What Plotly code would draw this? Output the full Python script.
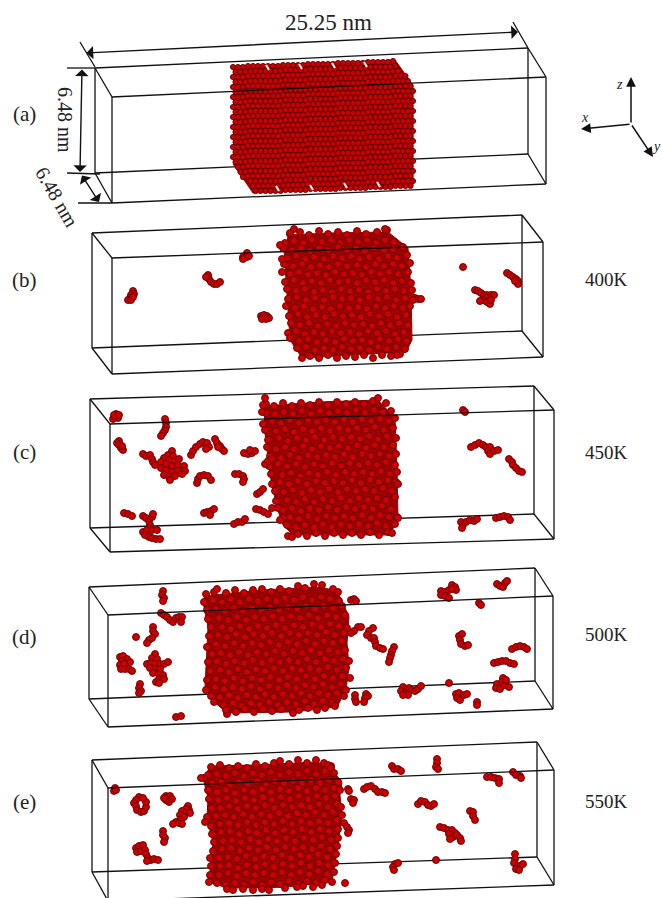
import plotly.graph_objects as go

ATOM = '#cc0000'
EDGE = '#640000'
FILL = '#9c0000'
SERIF = 'Liberation Serif'
INK = '#222222'

# box corners: back TL, back TR, front TL, front TR, back BL, back BR, front BL, front BR
box_a_x = [95, 528, 112, 546, 95, 528, 112, 546]
box_a_y = [68, 48, 97, 77, 173, 154, 203, 184]
box_b_x = [92, 522, 112, 543, 92, 522, 112, 543]
box_b_y = [233, 215, 258, 242, 348, 331, 374, 357]
box_c_x = [90, 534, 110, 554, 90, 534, 110, 554]
box_c_y = [399, 386, 424, 410, 528, 514, 552, 539]
box_d_x = [89, 535, 108, 553, 89, 535, 108, 553]
box_d_y = [587, 568, 615, 596, 699, 681, 727, 709]
box_e_x = [92, 537, 108, 554, 92, 537, 108, 554]
box_e_y = [760, 742, 788, 770, 872, 857, 901, 885]

# panel (a) lattice: row heights with their left and right ends, columns with their tilt
a_row_y = [67, 72, 77, 82, 87, 92, 97, 102, 107, 112, 117, 122, 127, 132, 137, 142, 147, 152, 157, 162,
           167, 172, 177, 182, 187, 192]
a_row_left = [233, 233, 233, 233, 233, 233, 233, 233, 233, 233, 233, 233, 233, 233, 233, 233, 233, 233, 233, 233,
              235, 239, 242, 246, 249, 253]
a_row_right = [395, 399, 402, 406, 410, 413, 413, 413, 413, 413, 413, 413, 413, 413, 413, 413, 413, 413, 413, 413,
               413, 413, 413, 413, 413, 413]
a_cols = [233, 238, 243, 248, 253, 258, 263, 268, 273, 278, 283, 288, 293, 298, 303, 308, 313, 318, 323, 328,
          333, 338, 343, 348, 353, 358, 363, 368, 373, 378, 383, 388, 393, 398, 403, 408, 413]
a_tilt = [0, 0, 0, -1, -1, -1, -1, -1, -1, -1, -2, -2, -2, -2, -2, -3, -3, -3, -3, -3,
          -3, -4, -4, -4, -4, -4, -4, -5, -5, -5, -5, -5, -6, -6, -6, -6, -6]
a_notch_x = [266, 269, None, 299, 302, None, 332, 335, None, 364, 367, None,
             276, 279, None, 310, 313, None, 344, 347, None, 377, 380]
a_notch_y = [65, 70, None, 64, 69, None, 63, 68, None, 62, 67, None,
             186, 191, None, 185, 190, None, 183, 188, None, 182, 187]
a_hull_x = [233, 395, 413, 413, 253, 233]
a_hull_y = [66, 60, 85, 186, 193, 164]

# block silhouettes
hull_b_x = [288, 330, 388, 408, 411, 412, 406, 302, 290, 287, 284]
hull_b_y = [235, 233, 232, 248, 290, 340, 352, 358, 340, 300, 250]
hull_c_x = [264, 320, 378, 395, 397, 398, 390, 293, 283, 277, 270, 267, 264]
hull_c_y = [406, 402, 400, 418, 470, 518, 535, 535, 525, 508, 475, 452, 425]
hull_d_x = [204, 260, 320, 337, 343, 349, 347, 349, 346, 337, 293, 227, 212, 205, 207, 208, 203]
hull_d_y = [596, 590, 587, 591, 603, 617, 643, 667, 690, 707, 712, 713, 700, 687, 647, 627, 602]
hull_e_x = [210, 253, 317, 330, 342, 340, 342, 340, 337, 332, 297, 267, 227, 209, 211, 213, 207, 208, 203]
hull_e_y = [766, 765, 762, 767, 782, 795, 815, 832, 852, 882, 886, 888, 888, 882, 858, 842, 818, 798, 778]

block_b = [
    (290, 234), (300, 232), (309, 235), (319, 231), (328, 234), (338, 232), (347, 235), (357, 231), (366, 234), (377, 232), (387, 230), (294, 229),
    (285, 243), (294, 241), (303, 243), (312, 240), (322, 242), (331, 240), (340, 243), (349, 240), (358, 242), (367, 240), (376, 243), (385, 240), (394, 242),
    (283, 248), (292, 250), (301, 248), (310, 251), (319, 248), (328, 250), (338, 247), (347, 250), (356, 248), (365, 251), (374, 248), (384, 250), (393, 249), (403, 247),
    (287, 258), (296, 256), (305, 259), (314, 257), (324, 259), (333, 256), (342, 258), (351, 256), (360, 259), (369, 257), (379, 259), (388, 256), (397, 258), (407, 255),
    (284, 264), (293, 266), (302, 264), (311, 267), (320, 265), (329, 267), (338, 264), (347, 266), (357, 265), (366, 267), (375, 264), (384, 266), (393, 264), (402, 266), (410, 263),
    (282, 272), (290, 274), (299, 272), (308, 275), (317, 273), (326, 275), (335, 272), (344, 274), (353, 273), (362, 275), (371, 272), (380, 274), (389, 272), (398, 274), (408, 272),
    (285, 282), (294, 280), (303, 283), (312, 281), (321, 283), (330, 280), (339, 282), (348, 281), (357, 283), (366, 280), (375, 282), (384, 280), (393, 283), (402, 281), (411, 283),
    (287, 289), (296, 291), (305, 289), (314, 292), (323, 290), (332, 292), (341, 289), (350, 291), (359, 290), (368, 292), (377, 289), (386, 291), (395, 289), (404, 291), (412, 290),
    (288, 299), (297, 297), (306, 300), (315, 298), (324, 300), (333, 297), (342, 299), (351, 298), (360, 300), (369, 297), (378, 299), (387, 297), (396, 300), (405, 298),
    (286, 306), (295, 308), (304, 306), (313, 309), (322, 307), (331, 309), (340, 306), (349, 308), (358, 307), (367, 309), (376, 306), (385, 308), (394, 306), (403, 308), (410, 306),
    (289, 316), (298, 314), (307, 317), (316, 315), (325, 317), (334, 314), (343, 316), (352, 315), (361, 317), (370, 314), (379, 316), (388, 314), (397, 317), (406, 315),
    (291, 323), (300, 325), (309, 323), (318, 326), (327, 324), (336, 326), (345, 323), (354, 325), (363, 324), (372, 326), (381, 323), (390, 325), (399, 323), (408, 325),
    (288, 333), (296, 331), (305, 334), (314, 332), (323, 334), (332, 331), (341, 333), (350, 332), (359, 334), (368, 331), (377, 333), (386, 331), (395, 334), (404, 332),
    (290, 338), (299, 341), (308, 339), (317, 342), (326, 340), (335, 342), (344, 339), (353, 341), (362, 340), (371, 342), (380, 339), (389, 341), (398, 339), (407, 341),
    (297, 348), (306, 347), (315, 350), (324, 348), (333, 350), (342, 347), (351, 349), (360, 348), (369, 350), (378, 347), (387, 349), (396, 347), (405, 349),
    (302, 358), (310, 356), (319, 358), (328, 355), (337, 358), (346, 356), (355, 357), (364, 355), (373, 358), (382, 355), (391, 356), (400, 354), (397, 355),
]

block_c = [
    (266, 404), (274, 406), (283, 403), (292, 406), (301, 403), (310, 405), (319, 402), (328, 405), (337, 402), (346, 404), (355, 402), (364, 404), (373, 401), (378, 398), (386, 403),
    (266, 413), (275, 414), (284, 412), (293, 414), (302, 411), (311, 414), (320, 411), (329, 413), (338, 411), (347, 413), (356, 410), (365, 413), (374, 410), (383, 412), (391, 411),
    (263, 424), (272, 421), (281, 423), (290, 420), (299, 423), (308, 420), (317, 422), (326, 420), (335, 422), (344, 419), (353, 422), (362, 419), (371, 421), (380, 419), (389, 421), (395, 418),
    (265, 430), (276, 431), (285, 429), (294, 432), (303, 429), (312, 431), (321, 428), (330, 431), (339, 428), (348, 430), (357, 428), (366, 430), (375, 427), (384, 430), (393, 428),
    (268, 440), (279, 438), (288, 441), (297, 438), (306, 440), (315, 437), (324, 440), (333, 437), (342, 439), (351, 437), (360, 439), (369, 436), (378, 439), (387, 436), (396, 438),
    (267, 447), (276, 449), (285, 447), (294, 449), (303, 446), (312, 449), (321, 446), (330, 448), (339, 446), (348, 448), (357, 445), (366, 448), (375, 445), (384, 447), (393, 445),
    (270, 456), (281, 458), (290, 455), (299, 458), (308, 455), (317, 457), (326, 455), (335, 457), (344, 454), (353, 457), (362, 454), (371, 456), (380, 454), (389, 456), (396, 454),
    (269, 466), (278, 464), (287, 466), (296, 464), (305, 467), (314, 464), (323, 466), (332, 463), (341, 466), (350, 463), (359, 465), (368, 463), (377, 465), (386, 462), (395, 465),
    (271, 474), (282, 475), (291, 473), (300, 476), (309, 473), (318, 475), (327, 472), (336, 475), (345, 472), (354, 474), (363, 472), (372, 474), (381, 471), (390, 474), (397, 472),
    (272, 484), (280, 482), (289, 484), (298, 481), (307, 484), (316, 481), (325, 483), (334, 481), (343, 483), (352, 480), (361, 483), (370, 480), (379, 482), (388, 480), (396, 482),
    (275, 491), (284, 492), (293, 490), (302, 493), (311, 490), (320, 492), (329, 489), (338, 492), (347, 489), (356, 491), (365, 489), (374, 491), (383, 488), (392, 491),
    (276, 501), (287, 500), (296, 502), (305, 499), (314, 502), (323, 499), (332, 501), (341, 498), (350, 501), (359, 498), (368, 500), (377, 498), (386, 500), (395, 497),
    (278, 508), (283, 510), (292, 508), (301, 511), (310, 508), (319, 510), (328, 507), (337, 510), (346, 507), (355, 509), (364, 507), (373, 509), (382, 506), (391, 509),
    (283, 518), (290, 517), (299, 519), (308, 516), (317, 519), (326, 516), (335, 518), (344, 516), (353, 518), (362, 515), (371, 518), (380, 515), (389, 517), (397, 517),
    (287, 525), (296, 527), (305, 525), (314, 527), (323, 524), (332, 527), (341, 524), (350, 526), (359, 524), (368, 526), (377, 523), (386, 526), (395, 524),
    (298, 534), (307, 536), (316, 533), (325, 536), (334, 533), (343, 535), (352, 533), (361, 535), (370, 532), (379, 535), (388, 532), (392, 533),
]

block_d = [
    (206, 594), (214, 592), (217, 589), (226, 593), (235, 590), (244, 593), (253, 590), (262, 589), (271, 592), (280, 589), (289, 591), (298, 586), (305, 588), (314, 584), (322, 585), (333, 589), (338, 592),
    (204, 602), (213, 600), (222, 602), (231, 599), (240, 602), (249, 599), (258, 601), (267, 599), (276, 601), (285, 598), (294, 600), (303, 597), (312, 600), (321, 597), (330, 599), (339, 601),
    (207, 610), (216, 609), (225, 611), (234, 608), (243, 611), (252, 608), (261, 610), (270, 607), (279, 610), (288, 607), (297, 609), (306, 606), (315, 609), (324, 606), (333, 608), (342, 606),
    (208, 619), (219, 618), (228, 620), (237, 617), (246, 620), (255, 617), (264, 619), (273, 616), (282, 619), (291, 616), (300, 618), (309, 615), (318, 618), (327, 615), (336, 617), (345, 615),
    (211, 627), (222, 627), (231, 629), (240, 626), (249, 629), (258, 626), (267, 628), (276, 625), (285, 628), (294, 625), (303, 627), (312, 624), (321, 627), (330, 624), (339, 626), (347, 628),
    (209, 636), (218, 635), (227, 637), (236, 634), (245, 637), (254, 634), (263, 636), (272, 633), (281, 636), (290, 633), (299, 635), (308, 633), (317, 635), (326, 632), (335, 635), (344, 633),
    (207, 647), (216, 644), (225, 646), (234, 643), (243, 646), (252, 643), (261, 645), (270, 642), (279, 645), (288, 642), (297, 644), (306, 641), (315, 644), (324, 641), (333, 643), (342, 641),
    (212, 654), (221, 653), (230, 655), (239, 652), (248, 655), (257, 652), (266, 654), (275, 651), (284, 654), (293, 651), (302, 653), (311, 650), (320, 653), (329, 650), (338, 652), (345, 650),
    (208, 662), (217, 661), (226, 664), (235, 661), (244, 663), (253, 660), (262, 663), (271, 660), (280, 662), (289, 660), (298, 662), (307, 659), (316, 662), (325, 659), (334, 661), (343, 659), (349, 661),
    (210, 671), (220, 670), (229, 672), (238, 669), (247, 672), (256, 669), (265, 671), (274, 668), (283, 671), (292, 668), (301, 670), (310, 668), (319, 670), (328, 667), (337, 670), (346, 668),
    (207, 680), (216, 679), (225, 681), (234, 678), (243, 681), (252, 678), (261, 680), (270, 677), (279, 680), (288, 677), (297, 679), (306, 676), (315, 679), (324, 676), (333, 678), (342, 676), (350, 678),
    (206, 690), (215, 687), (224, 689), (233, 687), (242, 689), (251, 686), (260, 689), (269, 686), (278, 688), (287, 685), (296, 688), (305, 685), (314, 687), (323, 684), (332, 687), (341, 684), (346, 690),
    (211, 696), (220, 697), (229, 695), (238, 698), (247, 695), (256, 697), (265, 694), (274, 697), (283, 694), (292, 696), (301, 693), (310, 696), (319, 693), (328, 695), (337, 693), (344, 696),
    (214, 702), (224, 705), (233, 703), (242, 706), (251, 703), (260, 705), (269, 702), (278, 705), (287, 702), (296, 704), (305, 701), (314, 704), (323, 701), (332, 703),
    (227, 714), (226, 710), (236, 712), (245, 709), (254, 712), (263, 709), (272, 711), (281, 709), (293, 713), (299, 710), (308, 708), (317, 710), (325, 708), (335, 706),
]

block_e = [
    (211, 767), (220, 765), (229, 768), (238, 766), (247, 768), (256, 764), (265, 766), (274, 763), (280, 761), (289, 764), (298, 760), (307, 763), (316, 760), (324, 763), (331, 766),
    (208, 775), (217, 774), (226, 776), (235, 773), (244, 776), (253, 773), (262, 775), (271, 772), (280, 775), (289, 772), (298, 774), (307, 771), (316, 774), (325, 771), (334, 773),
    (204, 778), (212, 783), (221, 782), (230, 785), (239, 782), (248, 784), (257, 781), (266, 784), (275, 781), (284, 783), (293, 781), (302, 783), (311, 780), (320, 783), (329, 780), (338, 782),
    (208, 790), (217, 792), (226, 790), (235, 793), (244, 790), (253, 792), (262, 789), (271, 792), (280, 789), (289, 791), (298, 788), (307, 791), (316, 788), (325, 790), (334, 788), (340, 790),
    (209, 799), (218, 800), (227, 798), (236, 801), (245, 798), (254, 800), (263, 797), (272, 800), (281, 797), (290, 799), (299, 796), (308, 799), (317, 796), (326, 798), (335, 796),
    (211, 808), (220, 808), (229, 806), (238, 809), (247, 806), (256, 808), (265, 805), (274, 808), (283, 805), (292, 807), (301, 805), (310, 807), (319, 804), (328, 807), (337, 804), (341, 807),
    (207, 817), (216, 816), (225, 815), (234, 817), (243, 814), (252, 817), (261, 814), (270, 816), (279, 813), (288, 816), (297, 813), (306, 815), (315, 812), (324, 815), (333, 812), (342, 815),
    (211, 826), (220, 824), (229, 823), (238, 825), (247, 822), (256, 825), (265, 822), (274, 824), (283, 821), (292, 824), (301, 821), (310, 823), (319, 821), (328, 823), (337, 820), (344, 823),
    (212, 834), (221, 832), (230, 831), (239, 834), (248, 831), (257, 833), (266, 830), (275, 833), (284, 830), (293, 832), (302, 829), (311, 832), (320, 829), (329, 831), (338, 829),
    (214, 842), (223, 841), (232, 840), (241, 842), (250, 839), (259, 842), (268, 839), (277, 841), (286, 838), (295, 841), (304, 838), (313, 840), (322, 837), (331, 840), (338, 838),
    (213, 851), (222, 849), (231, 848), (240, 851), (249, 848), (258, 850), (267, 847), (276, 850), (285, 847), (294, 849), (303, 847), (312, 849), (321, 846), (330, 849), (337, 846),
    (210, 858), (219, 858), (228, 857), (237, 859), (246, 856), (255, 859), (264, 856), (273, 858), (282, 855), (291, 858), (300, 855), (309, 857), (318, 854), (327, 857), (336, 854),
    (211, 866), (220, 866), (229, 865), (238, 868), (247, 865), (256, 867), (265, 864), (274, 867), (283, 864), (292, 866), (301, 863), (310, 866), (319, 863), (328, 865), (335, 863),
    (210, 875), (219, 875), (228, 873), (237, 876), (246, 873), (255, 875), (264, 873), (273, 875), (282, 872), (291, 875), (300, 872), (309, 874), (318, 871), (327, 874), (334, 872),
    (209, 882), (217, 883), (226, 885), (235, 883), (244, 885), (253, 882), (262, 885), (271, 882), (280, 884), (289, 881), (298, 884), (307, 881), (316, 883), (325, 880), (332, 882),
    (227, 889), (233, 890), (243, 889), (253, 890), (262, 889), (269, 890), (285, 888), (297, 887), (303, 886), (313, 887), (322, 885),
]

# loose atoms outside the blocks
loose_b = [(133, 291), (134, 294), (131, 295), (130, 298), (128, 300), (131, 300), (133, 297),
           (208, 275), (209, 279), (211, 282), (214, 284), (217, 284), (220, 282), (206, 277),
           (247, 253), (245, 256), (243, 257), (247, 257), (243, 259), (249, 256),
           (261, 316), (264, 315), (267, 316), (269, 318), (266, 319), (262, 319), (463, 267),
           (507, 273), (510, 275), (513, 277), (516, 279), (518, 281), (518, 284), (515, 281),
           (475, 290), (478, 291), (481, 293), (484, 295), (487, 295), (491, 295), (494, 295), (486, 298),
           (483, 300), (480, 301), (487, 302), (490, 304), (491, 300),
           (412, 297), (415, 298), (418, 299), (421, 299), (413, 300),
           (290, 233), (385, 229), (282, 259), (280, 245)]
loose_c = [(115, 417), (118, 418), (113, 419), (116, 414), (114, 415), (119, 415),
           (165, 419), (166, 423), (166, 427), (165, 430), (163, 433), (161, 436),
           (119, 441), (117, 443), (119, 445), (121, 448), (123, 450), (122, 446),
           (143, 454), (146, 456), (150, 455), (152, 459), (153, 462), (155, 465),
           (172, 451), (168, 455), (173, 456), (164, 458), (169, 460), (175, 461), (179, 459), (161, 462),
           (166, 464), (172, 466), (178, 465), (184, 466), (161, 468), (166, 470), (172, 472), (178, 471),
           (185, 471), (164, 475), (169, 477), (175, 476), (182, 474), (170, 480),
           (191, 455), (193, 451), (196, 447), (200, 444), (203, 442), (207, 443), (209, 447), (206, 449),
           (215, 439), (217, 443), (220, 446), (222, 449), (224, 451), (218, 447),
           (244, 453), (248, 454), (252, 453), (255, 451), (250, 450),
           (197, 483), (198, 479), (200, 476), (204, 475), (208, 476), (211, 480),
           (235, 474), (239, 474), (243, 476), (244, 479), (243, 482),
           (204, 513), (207, 512), (211, 511), (214, 509), (210, 515),
           (124, 513), (128, 514), (132, 516), (143, 516), (146, 518), (149, 521), (152, 517), (153, 514), (150, 525),
           (149, 528), (143, 532), (147, 530), (152, 530), (157, 530), (145, 535), (149, 537), (152, 538), (156, 539), (160, 539),
           (234, 524), (238, 522), (242, 522), (245, 519), (463, 410), (465, 412),
           (471, 447), (475, 445), (479, 443), (483, 445), (486, 447), (490, 447), (488, 451), (490, 454), (494, 451), (498, 450),
           (509, 459), (512, 462), (513, 465), (516, 468), (519, 471), (522, 472),
           (461, 522), (463, 525), (462, 528), (466, 522), (470, 520), (474, 521), (477, 519),
           (496, 518), (500, 517), (504, 516), (508, 517), (510, 520),
           (265, 464), (268, 461), (272, 459), (257, 494), (260, 492), (263, 489),
           (256, 509), (260, 510), (264, 512), (268, 514), (272, 508), (280, 520), (288, 536), (292, 537), (263, 405), (262, 412),
           (265, 398), (398, 484), (398, 518)]
loose_d = [(163, 591), (162, 595), (164, 598), (163, 601), (161, 613), (164, 615), (167, 617), (170, 620),
           (173, 622), (176, 618), (179, 617), (182, 617), (181, 622), (136, 637),
           (153, 627), (153, 631), (155, 634), (152, 638), (149, 640), (147, 643),
           (120, 657), (123, 656), (127, 659), (130, 662), (122, 661), (120, 665), (124, 664), (121, 669), (125, 669), (129, 669), (132, 671),
           (155, 654), (152, 658), (157, 659), (147, 664), (151, 663), (155, 664), (160, 664), (164, 664), (168, 662),
           (150, 668), (155, 669), (160, 669), (153, 673), (159, 674), (163, 675), (159, 679), (164, 679), (156, 682), (159, 683),
           (140, 684), (139, 688), (141, 691), (139, 693), (176, 717), (181, 716),
           (351, 600), (354, 599), (356, 601), (358, 627), (354, 631), (351, 633), (361, 627),
           (373, 628), (369, 631), (367, 635), (371, 638), (374, 638), (375, 642), (376, 646), (380, 648), (383, 649),
           (394, 647), (392, 651), (391, 655), (390, 658), (389, 662),
           (355, 695), (355, 699), (356, 702), (366, 694), (368, 696), (365, 698), (364, 702),
           (403, 687), (401, 691), (405, 693), (409, 688), (412, 690), (408, 695), (403, 695), (415, 691), (418, 689), (421, 686),
           (449, 683), (456, 694), (459, 693), (457, 698), (460, 700), (464, 695), (467, 694), (477, 702), (477, 705),
           (497, 684), (496, 688), (500, 689), (503, 678), (502, 682), (505, 685), (509, 687), (506, 680),
           (494, 663), (498, 662), (502, 661), (506, 661), (510, 663), (514, 664),
           (512, 649), (516, 647), (520, 646), (524, 647), (527, 649),
           (459, 636), (462, 634), (460, 640), (461, 644), (465, 646), (468, 645),
           (441, 591), (441, 595), (445, 592), (449, 590), (452, 585), (455, 587), (456, 590), (452, 589), (445, 596), (449, 598),
           (479, 603), (481, 605), (497, 584), (500, 586), (503, 587), (505, 583), (507, 581)]
loose_e = [(115, 788), (114, 791), (116, 790), (139, 797), (136, 800), (134, 803), (136, 806), (137, 810), (141, 812), (144, 811), (146, 807), (146, 802), (143, 798),
           (166, 796), (170, 796), (172, 799), (169, 802), (166, 800), (164, 798),
           (188, 806), (189, 810), (186, 809), (182, 811), (186, 813), (190, 813), (180, 815), (184, 817), (180, 820), (176, 822), (173, 824), (179, 823), (182, 824),
           (163, 831), (163, 835), (165, 838), (164, 842), (136, 848), (139, 846), (143, 845), (137, 852), (141, 851), (145, 850), (146, 854),
           (148, 858), (151, 860), (147, 861), (154, 859), (158, 860), (205, 822), (201, 778), (328, 765), (331, 768),
           (348, 789), (349, 791), (351, 799), (354, 800), (353, 803), (345, 883), (347, 827), (349, 830), (348, 833),
           (364, 789), (367, 787), (371, 786), (375, 789), (378, 792), (382, 792), (385, 793),
           (392, 766), (394, 769), (398, 769), (401, 771), (437, 759), (437, 763), (436, 767), (438, 769),
           (418, 804), (421, 801), (425, 802), (428, 805), (431, 806), (434, 804), (470, 811), (473, 812), (473, 816), (475, 820),
           (440, 827), (444, 828), (448, 830), (452, 830), (455, 833), (449, 834), (453, 837), (457, 835), (450, 839), (460, 838), (461, 841),
           (487, 777), (491, 777), (495, 778), (499, 779), (499, 783), (513, 772), (516, 775), (520, 776), (521, 778),
           (395, 864), (393, 867), (394, 870), (398, 863), (436, 860), (515, 854), (515, 859), (514, 863), (517, 866), (520, 866), (523, 864), (516, 869), (519, 870)]

panel_labels = ['(a)', '(b)', '(c)', '(d)', '(e)']
panel_label_y = [114, 280, 452, 637, 802]
temp_labels = ['400K', '450K', '500K', '550K']
temp_label_y = [279, 452, 634, 801]


def box_edges(xs, ys, front):
    # the front top edge is the only one drawn over the atoms
    if front:
        pairs = [(2, 3)]
    else:
        pairs = [(0, 1), (0, 2), (1, 3), (4, 5), (4, 6), (5, 7), (6, 7), (0, 4), (1, 5), (2, 6), (3, 7)]
    ex, ey = [], []
    for i, j in pairs:
        ex += [xs[i], xs[j], None]
        ey += [ys[i], ys[j], None]
    return go.Scatter(x=ex, y=ey, mode='lines', line=dict(color='#111111', width=1.3),
                      showlegend=False, hoverinfo='skip')


def atoms(points, size=7):
    return go.Scatter(x=[p[0] for p in points], y=[p[1] for p in points], mode='markers',
                      marker=dict(size=size, color=ATOM, line=dict(color=EDGE, width=0.9)),
                      showlegend=False, hoverinfo='skip')


def hull(xs, ys):
    return go.Scatter(x=xs, y=ys, mode='lines', fill='toself', fillcolor=FILL,
                      line=dict(color=FILL, width=1), showlegend=False, hoverinfo='skip')


lattice = []
for i, row in enumerate(a_row_y):
    shift = 2.5 if i % 2 else 0
    for col, dy in zip(a_cols, a_tilt):
        if a_row_left[i] <= col + shift <= a_row_right[i]:
            lattice.append((col + shift, row + dy))

fig = go.Figure()

fig.add_trace(box_edges(box_a_x, box_a_y, False))
fig.add_trace(hull(a_hull_x, a_hull_y))
fig.add_trace(atoms(lattice, 5.2))
fig.add_trace(go.Scatter(x=a_notch_x, y=a_notch_y, mode='lines', line=dict(color='white', width=2),
                         showlegend=False, hoverinfo='skip'))
fig.add_trace(box_edges(box_a_x, box_a_y, True))

panels = [(box_b_x, box_b_y, hull_b_x, hull_b_y, block_b, loose_b),
          (box_c_x, box_c_y, hull_c_x, hull_c_y, block_c, loose_c),
          (box_d_x, box_d_y, hull_d_x, hull_d_y, block_d, loose_d),
          (box_e_x, box_e_y, hull_e_x, hull_e_y, block_e, loose_e)]
for bx, by, hx, hy, block, loose in panels:
    fig.add_trace(box_edges(bx, by, False))
    fig.add_trace(hull(hx, hy))
    fig.add_trace(atoms(block + loose))
    fig.add_trace(box_edges(bx, by, True))

notes = []
for label, y in zip(panel_labels, panel_label_y):
    notes.append(dict(x=24, y=y, text=label, showarrow=False, font=dict(family=SERIF, size=21, color=INK)))
for label, y in zip(temp_labels, temp_label_y):
    notes.append(dict(x=606, y=y, text=label, showarrow=False, font=dict(family=SERIF, size=19, color=INK)))
notes.append(dict(x=328, y=22, text='25.25 nm', showarrow=False, font=dict(family=SERIF, size=23, color=INK)))
notes.append(dict(x=65, y=120, text='6.48 nm', textangle=90, showarrow=False,
                  font=dict(family=SERIF, size=20, color=INK)))
notes.append(dict(x=57, y=197, text='6.48 nm', textangle=60, showarrow=False,
                  font=dict(family=SERIF, size=20, color=INK)))
notes.append(dict(x=619, y=84, text='<i>z</i>', showarrow=False, font=dict(family=SERIF, size=14, color=INK)))
notes.append(dict(x=585, y=117, text='<i>x</i>', showarrow=False, font=dict(family=SERIF, size=14, color=INK)))
notes.append(dict(x=656, y=146, text='<i>y</i>', showarrow=False, font=dict(family=SERIF, size=14, color=INK)))

# dimension arrows, both ends
for x0, y0, x1, y1 in [(85, 53, 518, 32), (82, 68, 80, 172), (81, 174, 99, 202)]:
    notes.append(dict(x=x1, y=y1, ax=x0, ay=y0, axref='x', ayref='y', text='', showarrow=True, arrowside='end+start',
                      arrowhead=1, arrowsize=1.6, arrowwidth=1.4, arrowcolor='#111111'))
# coordinate axes
for x1, y1 in [(631, 77), (581, 129), (653, 157)]:
    notes.append(dict(x=x1, y=y1, ax=631, ay=124, axref='x', ayref='y', text='', showarrow=True,
                      arrowhead=2, arrowsize=1.3, arrowwidth=1.5, arrowcolor='#111111'))
fig.update_layout(annotations=notes)

# extension lines of the dimensions
ext_x = [80, 95, None, 513, 528, None, 67, 95, None, 67, 100, None, 78, 112]
ext_y = [42, 67, None, 22, 48, None, 68, 68, None, 173, 174, None, 203, 203]
fig.add_trace(go.Scatter(x=ext_x, y=ext_y, mode='lines', line=dict(color='#111111', width=1.3),
                         showlegend=False, hoverinfo='skip'))

fig.update_layout(width=662, height=898, margin=dict(l=0, r=0, t=0, b=0), autosize=False,
                  paper_bgcolor='white', plot_bgcolor='white', showlegend=False,
                  xaxis=dict(range=[0, 662], visible=False, fixedrange=True),
                  yaxis=dict(range=[898, 0], visible=False, fixedrange=True))

# the page's default body margin would push everything 8px down and right
fig.write_html("out.html", config=dict(displayModeBar=False),
               post_script="document.body.style.margin='0';document.body.style.overflow='hidden';")
